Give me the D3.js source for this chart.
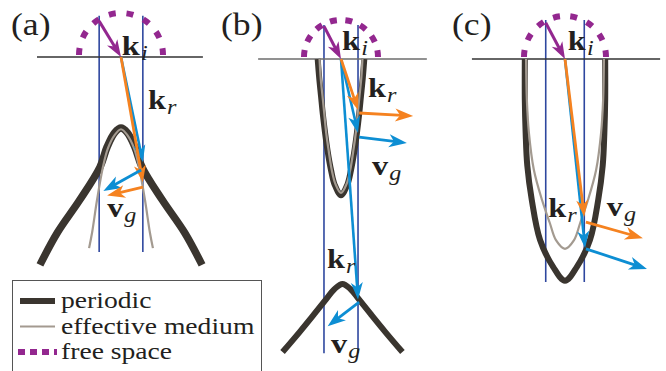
<!DOCTYPE html>
<html><head><meta charset="utf-8">
<script src="https://cdn.jsdelivr.net/npm/d3@7"></script>
<style>
body{margin:0;background:#fff}
svg{display:block}
svg text{font-family:"Liberation Serif","DejaVu Serif",serif}
</style>
</head><body>
<svg id="fig" width="666" height="371"></svg>
<script>
// ---------------- DATA (wave-vector space, units of free-space k0; y = depth below interface) -------------
const panelLabels = ["(a)", "(b)", "(c)"];
const legendLabels = ["periodic", "effective medium", "free space"];

// tangential wave-vector of the incident wave in each panel
const kIncident = [0.52, 0.46, 0.47];

// dispersion curves (isofrequency contours)
const periodicA = [[-1.93,4.95],[-1.52,4.19],[-0.98,3.40],[-0.5,2.62],[-0.33,2.14],[-0.15,1.80],[0,1.69],
                   [0.15,1.80],[0.33,2.14],[0.5,2.62],[0.98,3.40],[1.52,4.19],[1.93,4.95]];
const effectiveA = [[-0.76,4.55],[-0.69,4.19],[-0.57,3.40],[-0.43,2.62],[-0.31,2.17],[-0.16,1.87],[0,1.72],
                    [0.16,1.87],[0.31,2.17],[0.43,2.62],[0.57,3.40],[0.69,4.19],[0.76,4.55]];
const periodicB1 = [[-0.63,0],[-0.59,0.5],[-0.54,1.0],[-0.49,1.5],[-0.43,2.0],[-0.36,2.5],[-0.27,3.0],[-0.17,3.4],[0,3.68],
                    [0.17,3.4],[0.27,3.0],[0.36,2.5],[0.43,2.0],[0.49,1.5],[0.54,1.0],[0.59,0.5],[0.63,0]];
const effectiveB1 = [[-0.58,0],[-0.55,0.5],[-0.5,1.0],[-0.45,1.5],[-0.4,2.0],[-0.33,2.5],[-0.25,3.0],[-0.15,3.38],[0,3.62],
                     [0.15,3.38],[0.25,3.0],[0.33,2.5],[0.4,2.0],[0.45,1.5],[0.5,1.0],[0.55,0.5],[0.58,0]];
const periodicB2 = [[-1.58,7.92],[-1.12,7.38],[-0.72,6.89],[-0.40,6.49],[-0.18,6.22],[0.04,6.08],
                    [0.26,6.22],[0.48,6.49],[0.80,6.89],[1.20,7.38],[1.66,7.92]];
const periodicC = [[-0.98,0],[-0.98,1.0],[-0.96,1.8],[-0.92,2.6],[-0.81,3.44],[-0.61,4.41],[-0.29,5.07],[0,5.41],
                   [0.29,5.07],[0.61,4.41],[0.81,3.44],[0.92,2.6],[0.96,1.8],[0.98,1.0],[0.98,0]];
const effectiveC = [[-0.95,0],[-0.93,1.0],[-0.88,1.8],[-0.76,2.7],[-0.56,3.44],[-0.37,4.0],[-0.22,4.42],[0,4.63],
                    [0.22,4.42],[0.37,4.0],[0.56,3.44],[0.76,2.7],[0.88,1.8],[0.93,1.0],[0.95,0]];

const periodicCurves  = [[periodicA], [periodicB1, periodicB2], [periodicC]];
const effectiveCurves = [[effectiveA], [effectiveB1], [effectiveC]];

// refracted wave-vector tips (start at origin)
const krEffective = [[[0.52,2.98]], [[0.46,1.38]], [[0.47,3.85]]];
const krPeriodic  = [[[0.52,2.50]], [[0.46,2.00],[0.46,6.50]], [[0.49,4.61]]];
// group velocity arrows [x0,y0,x1,y1]
const vgEffective = [[[0.52,3.10,-0.33,3.30]], [[0.49,1.46,1.95,1.54]], [[0.51,3.98,1.90,4.37]]];
const vgPeriodic  = [[[0.48,2.69,-0.42,3.19]], [[0.49,2.11,1.78,2.27],[0.49,6.57,-0.36,7.22]], [[0.51,4.63,2.0,5.12]]];

// ---------------- LAYOUT -------------
const FONT = '"Liberation Serif", "DejaVu Serif", serif';
const STRETCH = 1.15;
const origin = [[121,57],[341,59],[565,59]];
const unit = [42, 37, 41];
const interfaceExtent = [[-2.0,1.95],[-2.24,2.32],[-2.27,2.32]];
const verticalExtent = [[-0.98,4.64],[-0.92,7.95],[-0.95,5.44]];
const panelLabelPos = [[11,35],[221,35],[452,35]];
const kiPos = [[0.02,-0.05],[0.03,-0.24],[0.07,-0.22]];
const krPos = [[[0.64,1.24]], [[0.73,1.03],[-0.38,5.65]], [[-0.41,3.85]]];
const vgPos = [[[-0.33,3.81]], [[0.84,3.14],[-0.27,7.95]], [[1.02,3.83]]];

const C = {periodic:"#3a352f", effective:"#a39a90", free:"#93278f", orange:"#f58220", blue:"#0d8ed3", vline:"#2e479f", text:"#231f20"};

const svg = d3.select("#fig");

function arrow(g, sx, sy, x0, y0, x1, y1, color, w, hl, hw){
  const X0 = sx(x0), Y0 = sy(y0), X1 = sx(x1), Y1 = sy(y1);
  const dx = X1-X0, dy = Y1-Y0, L = Math.hypot(dx,dy), ux = dx/L, uy = dy/L;
  const bx = X1-ux*hl, by = Y1-uy*hl;
  g.append("line").attr("x1",X0).attr("y1",Y0).attr("x2",X1-ux*hl*0.6).attr("y2",Y1-uy*hl*0.6)
    .attr("stroke",color).attr("stroke-width",w);
  g.append("path").attr("d",`M${X1},${Y1}L${bx-uy*hw/2},${by+ux*hw/2}L${X1-ux*hl*0.72},${Y1-uy*hl*0.72}L${bx+uy*hw/2},${by-ux*hw/2}Z`)
    .attr("fill",color);
}

function txt(g, x, y, size){
  return g.append("text").attr("transform",`translate(${x},${y}) scale(${STRETCH},1)`)
    .style("font-family",FONT).style("font-size",size+"px").attr("fill",C.text);
}

function kLabel(g, x, y, main, sub){
  const t = txt(g, x, y, 28);
  t.append("tspan").style("font-weight","bold").text(main);
  t.append("tspan").style("font-style","italic").style("font-size","21px").attr("dx",1).attr("dy",5).text(sub);
}

panelLabels.forEach((lab, i) => {
  const [ox, oy] = origin[i], u = unit[i];
  const sx = d3.scaleLinear().domain([0,1]).range([ox, ox+u]);
  const sy = d3.scaleLinear().domain([0,1]).range([oy, oy+u]);
  const g = svg.append("g");
  const line = d3.line().x(d=>sx(d[0])).y(d=>sy(d[1])).curve(d3.curveCatmullRom.alpha(0.5));

  [-kIncident[i], kIncident[i]].forEach(k => {
    g.append("line").attr("x1",sx(k)).attr("x2",sx(k)).attr("y1",sy(verticalExtent[i][0])).attr("y2",sy(verticalExtent[i][1]))
      .attr("stroke",C.vline).attr("stroke-width",1.6);
  });
  g.append("line").attr("x1",sx(interfaceExtent[i][0])).attr("x2",sx(interfaceExtent[i][1])).attr("y1",sy(0)).attr("y2",sy(0))
    .attr("stroke",i===1?"#6d6d6d":"#333").attr("stroke-width",1.3);

  periodicCurves[i].forEach(c => g.append("path").attr("d",line(c)).attr("fill","none")
      .attr("stroke",C.periodic).attr("stroke-width",i===0?7.5:6).attr("stroke-linecap","butt"));
  effectiveCurves[i].forEach(c => g.append("path").attr("d",line(c)).attr("fill","none")
      .attr("stroke",C.effective).attr("stroke-width",2.2));

  const R = sx(1)-sx(0);
  const p = d3.path(); p.arc(sx(0), sy(0)-2, R, Math.PI, 2*Math.PI);
  const arcLen = Math.PI*R, n = 8, dash = 7, gap = (arcLen - n*dash)/(n-1);
  g.append("path").attr("d",p.toString()).attr("fill","none").attr("stroke",C.free)
    .attr("stroke-width",6).attr("stroke-dasharray",`${dash} ${gap}`);

  const ki = kIncident[i], kz = Math.sqrt(1-ki*ki);
  arrow(g, sx, sy, -ki, -kz, 0, 0, C.free, 3, 17, 12);

  krPeriodic[i].forEach(d => arrow(g, sx, sy, 0, 0, d[0], d[1], C.blue, 2.6, 17, 12));
  krEffective[i].forEach(d => arrow(g, sx, sy, 0, 0, d[0], d[1], C.orange, 2.8, 17, 12));
  vgPeriodic[i].forEach(d => arrow(g, sx, sy, d[0], d[1], d[2], d[3], C.blue, 2.8, 18, 13));
  vgEffective[i].forEach(d => arrow(g, sx, sy, d[0], d[1], d[2], d[3], C.orange, 2.8, 18, 13));

  txt(g, panelLabelPos[i][0], panelLabelPos[i][1], 31).text(lab);
  kLabel(g, sx(kiPos[i][0]), sy(kiPos[i][1]), "k", "i");
  krPos[i].forEach(d => kLabel(g, sx(d[0]), sy(d[1]), "k", "r"));
  vgPos[i].forEach(d => kLabel(g, sx(d[0]), sy(d[1]), "v", "g"));
});

// ---------------- LEGEND -------------
const lg = svg.append("g");
lg.append("rect").attr("x",12.5).attr("y",280.5).attr("width",249).attr("height",100).attr("fill","none")
  .attr("stroke","#555").attr("stroke-width",1);
const legendY = d3.scalePoint().domain(legendLabels).range([301,352]);
const legendStyle = {
  "periodic": {stroke:C.periodic, w:6, dash:null},
  "effective medium": {stroke:C.effective, w:2, dash:null},
  "free space": {stroke:C.free, w:6, dash:"7 5"}
};
legendLabels.forEach(l => {
  const s = legendStyle[l], y = legendY(l);
  lg.append("line").attr("x1",l==="free space"?18:20).attr("x2",l==="free space"?57:55).attr("y1",y).attr("y2",y)
    .attr("stroke",s.stroke).attr("stroke-width",s.w).attr("stroke-dasharray",s.dash);
  txt(lg, 61, y+7, 24).text(l);
});
</script>
</body></html>
